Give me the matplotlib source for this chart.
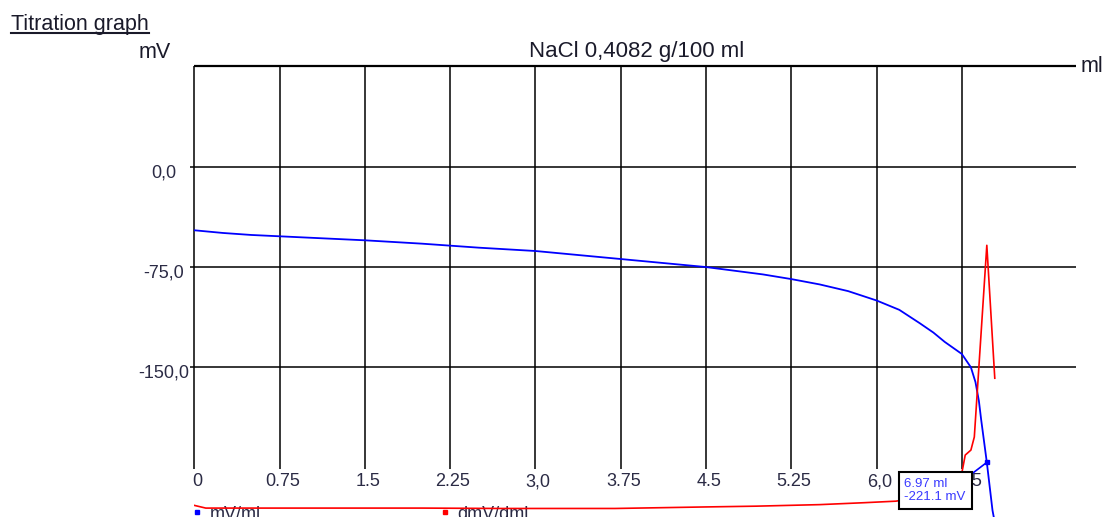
import matplotlib
matplotlib.use('Agg')
import matplotlib.pyplot as plt
from matplotlib.lines import Line2D

plt.rcParams['font.family'] = ['Liberation Sans', 'DejaVu Sans']

# titration data
ml = [0.0, 0.25, 0.5, 0.75, 1.0, 1.5, 2.0, 2.25, 2.5, 3.0, 3.5, 3.75, 4.0,
      4.5, 5.0, 5.25, 5.5, 5.75, 6.0, 6.2, 6.38, 6.5, 6.6, 6.75, 6.83,
      6.87, 6.9, 6.92, 6.97, 7.02, 7.06]
mv = [-47.5, -49.5, -51, -52, -53, -55, -57.5, -59, -60.5, -63, -67, -69, -71,
      -75, -80.5, -84, -88, -93, -100, -107, -117, -124, -131, -140, -150,
      -161, -175, -189, -221.1, -257, -275]

# first derivative dmV/dml
d_ml = [0.0, 0.1, 1.0, 2.0, 2.7, 3.7, 4.5, 4.94, 5.5, 5.89, 6.17, 6.5, 6.72,
        6.75, 6.78, 6.83, 6.86, 6.97, 7.04]
d_mv = [12, 5, 5, 5, 4, 4, 8, 10, 14, 19, 23, 39, 83,
        96, 143, 156, 190, 689, 343]

cursor_ml = 6.97
cursor_mv = -221.1

xticks = [0, 0.75, 1.5, 2.25, 3.0, 3.75, 4.5, 5.25, 6.0, 6.75]
xlabels = ['0', '0.75', '1.5', '2.25', '3,0', '3.75', '4.5', '5.25', '6,0', '6.75']
yticks = [0, -75, -150]
ylabels = ['0,0', '-75,0', '-150,0']

W, H = 1108, 517
fig = plt.figure(figsize=(W / 100, H / 100), dpi=100)
pxmv = 1.337
ax = fig.add_axes([194.4 / W, 0, 881.1 / W, (H - 66.5) / H])
ax.set_xlim(0, 7.75)
ax.set_ylim(75 - (H - 66.5) / pxmv, 75)
ax.set_axis_off()

# grid
ax.vlines(xticks, -226, 75, colors='k', lw=1.1, clip_on=False)
ax.hlines(yticks, -0.035, 7.75, colors='k', lw=1.1, clip_on=False)
ax.hlines(75, 0, 7.75, colors='k', lw=1.6, clip_on=False)

for x, lab in zip(xticks, xlabels):
    ax.text(x + 0.025, -235.7, lab, ha='center', va='center', fontsize=13,
            color='#2b2b45', clip_on=False)
for y, lab in zip(yticks, ylabels):
    ax.text(-0.27, y - 4.5, lab, ha='center', va='center', fontsize=13,
            color='#2b2b45', clip_on=False)

ax.plot(ml, mv, color='#0000ff', lw=1.3)

ax2 = ax.twinx()
ax2.set_ylim(-18.2, 1154.4)
ax2.set_axis_off()
ax2.plot(d_ml, d_mv, color='#ff0000', lw=1.2)

# cursor box
ax2.plot([cursor_ml], [cursor_mv], 's', ms=3.5, color='#0000ff',
         transform=ax.transData)
ax2.annotate(f'{cursor_ml:.2f} ml\n{cursor_mv:.1f} mV',
             xy=(cursor_ml, cursor_mv), xycoords=ax.transData,
             xytext=(-21, -16), textcoords='offset pixels',
             ha='right', va='top', ma='left', fontsize=9.5, color='#3a3aff',
             linespacing=1.05,
             bbox=dict(boxstyle='square,pad=0.45', fc='white', ec='black', lw=1.5),
             arrowprops=dict(arrowstyle='-', color='#0000ff', lw=1.2,
                             relpos=(1, 1), shrinkA=0, shrinkB=0),
             zorder=10)

# legend
ax.plot([197 / W], [1 - 512 / H], 's', ms=3, color='#0000ff',
        transform=fig.transFigure, clip_on=False)
ax.text(210 / W, 1 - 519 / H, 'mV/ml', fontsize=13, color='#2b2b45',
        va='baseline', transform=fig.transFigure, clip_on=False, zorder=1)
ax.plot([445 / W], [1 - 512 / H], 's', ms=3, color='#ff0000',
        transform=fig.transFigure, clip_on=False)
ax.text(457 / W, 1 - 519 / H, 'dmV/dml', fontsize=13, color='#2b2b45',
        va='baseline', transform=fig.transFigure, clip_on=False, zorder=1)

# titles
fig.text(637 / W, 1 - 52 / H, 'NaCl 0,4082 g/100 ml', ha='center', va='center',
         fontsize=16, color='#1a1a2a')
fig.text(155 / W, 1 - 52 / H, 'mV', ha='center', va='center', fontsize=15.5,
         color='#1a1a2a')
fig.text(1092 / W, 1 - 66 / H, 'ml', ha='center', va='center', fontsize=15.5,
         color='#1a1a2a')
t = fig.text(11 / W, 1 - 30 / H, 'Titration graph', va='baseline',
             fontsize=15.5, color='#1a1a2a')

fig.canvas.draw()
bb = t.get_window_extent()
fig.add_artist(Line2D([bb.x0 / W, bb.x1 / W], [1 - 32.7 / H, 1 - 32.7 / H],
                      color='#1a1a2a', lw=1.5, transform=fig.transFigure))

fig.savefig('out.png', dpi=100)
